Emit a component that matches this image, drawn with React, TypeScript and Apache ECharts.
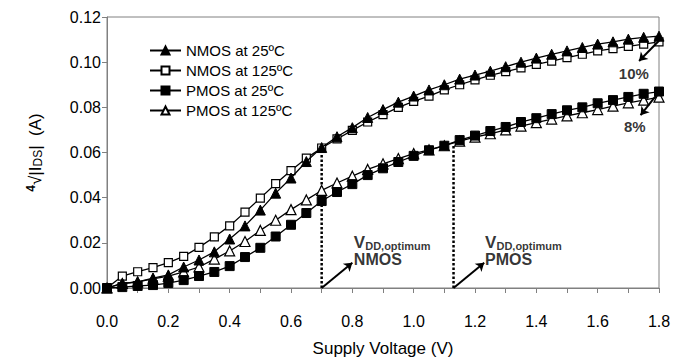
import React, { useEffect, useRef } from "react";
import * as echarts from "echarts";

const voltages = [0, 0.05, 0.1, 0.15, 0.2, 0.25, 0.3, 0.35, 0.4, 0.45, 0.5, 0.55, 0.6, 0.65, 0.7, 0.75, 0.8, 0.85, 0.9, 0.95, 1.0, 1.05, 1.1, 1.15, 1.2, 1.25, 1.3, 1.35, 1.4, 1.45, 1.5, 1.55, 1.6, 1.65, 1.7, 1.75, 1.8];

const nmos25 = [0, 0.002, 0.0027, 0.0044, 0.0058, 0.0093, 0.0124, 0.016, 0.0217, 0.0275, 0.0345, 0.042, 0.0487, 0.056, 0.0622, 0.067, 0.071, 0.0755, 0.079, 0.0823, 0.085, 0.0877, 0.09, 0.0925, 0.0943, 0.096, 0.098, 0.1, 0.1018, 0.1035, 0.105, 0.1065, 0.108, 0.109, 0.1102, 0.111, 0.1115];
const nmos125 = [0, 0.0053, 0.0072, 0.009, 0.0112, 0.014, 0.018, 0.0226, 0.0275, 0.0336, 0.0398, 0.0462, 0.052, 0.0575, 0.062, 0.066, 0.0698, 0.0735, 0.0768, 0.08, 0.0826, 0.085, 0.0877, 0.09, 0.0922, 0.0942, 0.0958, 0.0975, 0.099, 0.1005, 0.102, 0.1035, 0.105, 0.106, 0.107, 0.108, 0.109];
const pmos25 = [0, 0.0004, 0.0009, 0.0013, 0.0022, 0.0035, 0.0053, 0.0071, 0.0097, 0.0137, 0.0178, 0.0228, 0.028, 0.0332, 0.0385, 0.0425, 0.046, 0.05, 0.053, 0.0558, 0.0585, 0.061, 0.063, 0.0655, 0.0675, 0.0695, 0.0713, 0.0735, 0.0752, 0.077, 0.0787, 0.08, 0.0818, 0.0832, 0.0846, 0.086, 0.087];
const pmos125 = [0, 0.002, 0.0027, 0.004, 0.0053, 0.0071, 0.0093, 0.0128, 0.0164, 0.0206, 0.0255, 0.03, 0.0347, 0.039, 0.0432, 0.0465, 0.0495, 0.0525, 0.055, 0.0573, 0.0595, 0.0612, 0.063, 0.065, 0.0668, 0.0683, 0.07, 0.0717, 0.0732, 0.0748, 0.0762, 0.0776, 0.079, 0.0805, 0.082, 0.0832, 0.0845];

const seriesNames = ["NMOS at 25ºC", "NMOS at 125ºC", "PMOS at 25ºC", "PMOS at 125ºC"];

// optimum supply voltages: [voltage, curve value]
const nmosOptimum = [0.7, 0.0622];
const pmosOptimum = [1.13, 0.0637];

// arrow annotations: [fromX, fromY, toX, toY]
const arrowNmos = [0.7, 0, 0.8, 0.0112];
const arrowPmos = [1.13, 0, 1.23, 0.0112];
const arrow10 = [1.8, 0.1095, 1.735, 0.1005];
const arrow8 = [1.8, 0.0868, 1.74, 0.0765];

// label anchors
const labelNmosPos = [0.805, 0.0165];
const labelPmosPos = [1.233, 0.0165];
const label10Pos = [1.718, 0.0952];
const label8Pos = [1.721, 0.0717];

const xTicks = { min: 0, max: 1.8, interval: 0.1 };
const yTicks = { min: 0, max: 0.12, interval: 0.02 };

const FONT = "Liberation Sans, Arial, sans-serif";

function zip(xs: number[], ys: number[]) {
  return xs.map((x, i) => [x, ys[i]]);
}

export default function App() {
  const ref = useRef<HTMLDivElement>(null);
  useEffect(() => {
    if (!ref.current) return;
    const chart = echarts.init(ref.current, null, { renderer: "svg" });
    const markerLine = { color: "#000", width: 1.3 };
    const optLabelRich = {
      v: { fontSize: 17, fontWeight: "bold", fontFamily: FONT, color: "#000" },
      s: { fontSize: 11, fontWeight: "bold", fontFamily: FONT, color: "#000", padding: [7, 0, 0, 0] },
      m: { fontSize: 16, fontWeight: "bold", fontFamily: FONT, color: "#000", lineHeight: 17 },
    };
    const arrowSeries = (a: number[]) => ({
      type: "lines",
      coordinateSystem: "cartesian2d",
      symbol: ["none", "arrow"],
      symbolSize: 8,
      lineStyle: { color: "#000", width: 2, opacity: 1 },
      data: [{ coords: [[a[0], a[1]], [a[2], a[3]]] }],
      silent: true,
      z: 5,
    });
    const textSeries = (pos: number[], formatter: string, align: string) => ({
      type: "scatter",
      symbolSize: 0,
      silent: true,
      data: [pos],
      label: {
        show: true,
        position: "inside",
        align,
        verticalAlign: "middle",
        formatter,
        rich: optLabelRich,
        fontSize: 15,
        fontWeight: "bold",
        fontFamily: FONT,
        color: "#000",
      },
    });
    chart.setOption({
      animation: false,
      grid: { left: 107, right: 29, top: 17, bottom: 76, show: true, borderColor: "#808080", borderWidth: 1 },
      legend: {
        data: seriesNames,
        orient: "vertical",
        left: 144,
        top: 38,
        itemWidth: 31,
        itemHeight: 10,
        itemGap: 5,
        textStyle: { fontFamily: FONT, fontSize: 15, color: "#000" },
      },
      xAxis: {
        type: "value",
        min: xTicks.min,
        max: xTicks.max,
        interval: xTicks.interval,
        name: "Supply Voltage (V)",
        nameLocation: "middle",
        nameGap: 52,
        nameTextStyle: { fontFamily: FONT, fontSize: 17, color: "#000" },
        axisLine: { lineStyle: { color: "#808080", width: 1 } },
        axisTick: { show: true, inside: false, length: 5, lineStyle: { color: "#808080" } },
        axisLabel: {
          fontFamily: FONT,
          fontSize: 16,
          color: "#000",
          margin: 25,
          formatter: (v: number) => (Math.round(v * 10) % 2 === 0 ? v.toFixed(1) : ""),
        },
        splitLine: { show: false },
      },
      yAxis: {
        type: "value",
        min: yTicks.min,
        max: yTicks.max,
        interval: yTicks.interval,
        name: "{sup|4}{n|√|I}{sub|DS}{n||  (A)}",
        nameLocation: "middle",
        nameRotate: 90,
        nameGap: 62,
        nameTextStyle: {
          fontFamily: FONT,
          fontSize: 16,
          color: "#000",
          rich: {
            sup: { fontSize: 12, fontWeight: "bold", fontFamily: FONT, color: "#000", padding: [0, 0, 8, 0] },
            n: { fontSize: 17, fontFamily: FONT, color: "#000" },
            sub: { fontSize: 12, fontFamily: FONT, color: "#000", padding: [6, 0, 0, 0] },
          },
        },
        axisLine: { show: true, lineStyle: { color: "#808080", width: 1 } },
        axisTick: { show: true, inside: false, length: 5, lineStyle: { color: "#808080" } },
        axisLabel: {
          fontFamily: FONT,
          fontSize: 16,
          color: "#000",
          margin: 6,
          formatter: (v: number) => v.toFixed(2),
        },
        splitLine: { show: false },
      },
      series: [
        {
          name: seriesNames[0],
          type: "line",
          data: zip(voltages, nmos25),
          symbol: "triangle",
          symbolSize: 10,
          lineStyle: markerLine,
          itemStyle: { color: "#000", borderColor: "#000", borderWidth: 1 },
          z: 4,
        },
        {
          name: seriesNames[1],
          type: "line",
          data: zip(voltages, nmos125),
          symbol: "rect",
          symbolSize: 8,
          lineStyle: markerLine,
          itemStyle: { color: "#fff", borderColor: "#000", borderWidth: 1.2 },
          z: 3,
        },
        {
          name: seriesNames[2],
          type: "line",
          data: zip(voltages, pmos25),
          symbol: "rect",
          symbolSize: 9,
          lineStyle: markerLine,
          itemStyle: { color: "#000", borderColor: "#000", borderWidth: 1 },
          z: 4,
        },
        {
          name: seriesNames[3],
          type: "line",
          data: zip(voltages, pmos125),
          symbol: "triangle",
          symbolSize: 10,
          lineStyle: markerLine,
          itemStyle: { color: "#fff", borderColor: "#000", borderWidth: 1.2 },
          z: 3,
        },
        {
          type: "line",
          data: [[nmosOptimum[0], 0], [nmosOptimum[0], nmosOptimum[1]]],
          symbol: "none",
          lineStyle: { color: "#000", width: 2.5, type: [2.5, 2] },
          silent: true,
          z: 2,
        },
        {
          type: "line",
          data: [[pmosOptimum[0], 0], [pmosOptimum[0], pmosOptimum[1]]],
          symbol: "none",
          lineStyle: { color: "#000", width: 2.5, type: [2.5, 2] },
          silent: true,
          z: 2,
        },
        arrowSeries(arrowNmos),
        arrowSeries(arrowPmos),
        arrowSeries(arrow10),
        arrowSeries(arrow8),
        textSeries(labelNmosPos, "{v|V}{s|DD,optimum}\n{m|NMOS}", "left"),
        textSeries(labelPmosPos, "{v|V}{s|DD,optimum}\n{m|PMOS}", "left"),
        textSeries(label10Pos, "10%", "center"),
        textSeries(label8Pos, "8%", "center"),
      ],
    });
    return () => chart.dispose();
  }, []);
  return <div ref={ref} style={{ width: 688, height: 364, position: "absolute", left: 0, top: 0 }} />;
}
